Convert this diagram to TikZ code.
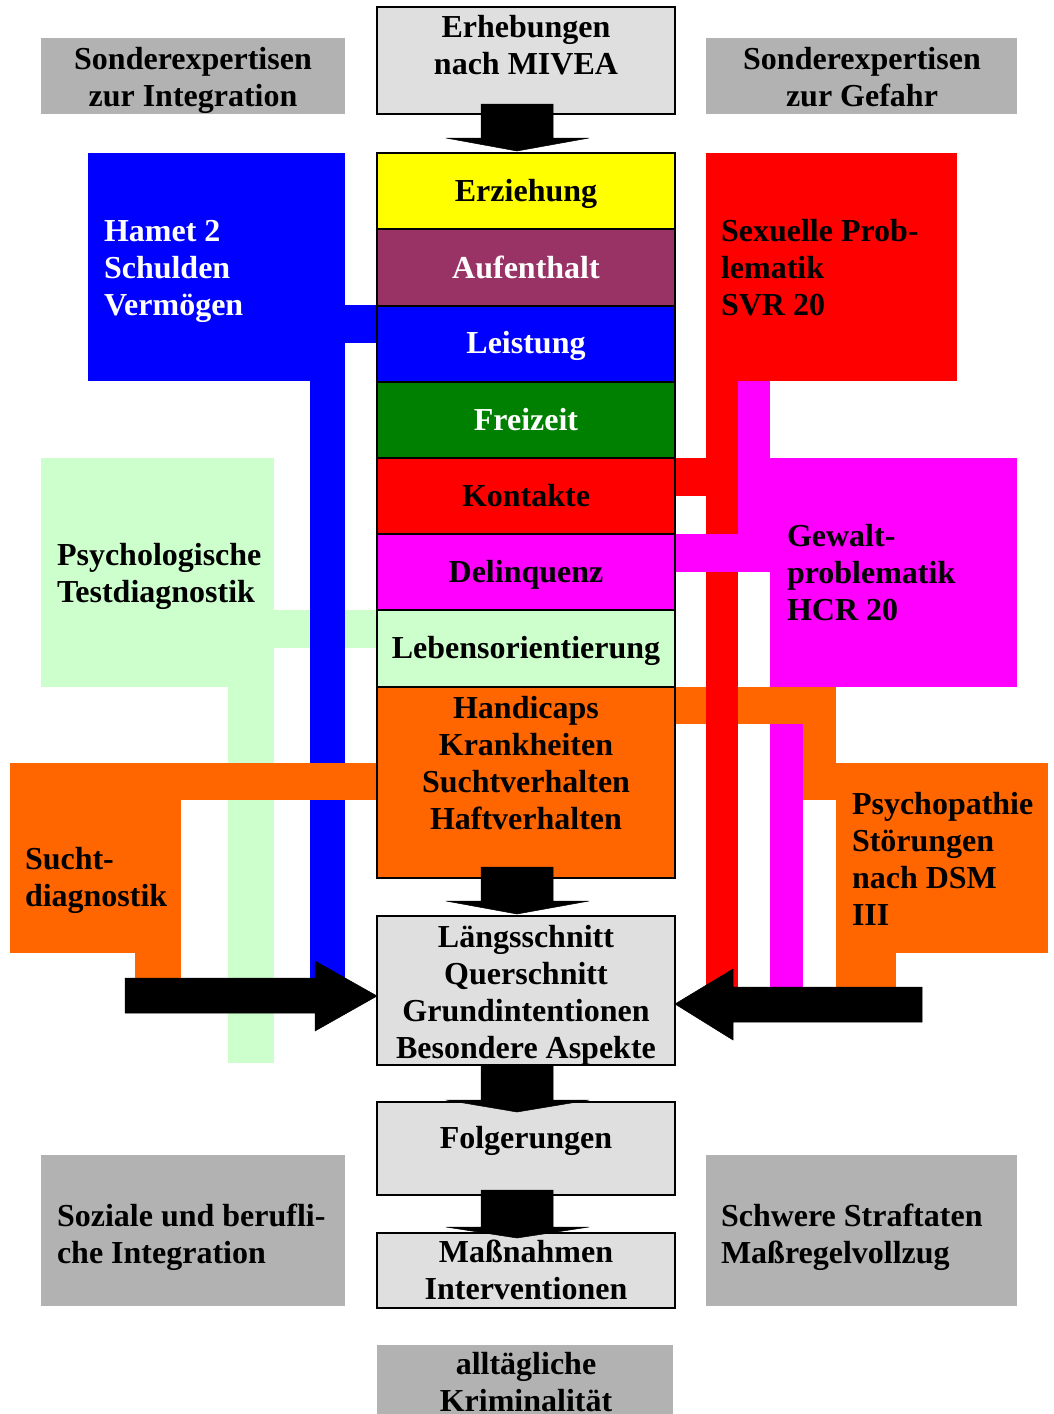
\documentclass[tikz,border=0pt]{standalone}
\usepackage{fontspec}
\setmainfont{Liberation Serif}
\usetikzlibrary{calc}
\definecolor{cgray}{HTML}{DFDFDF}
\definecolor{sgray}{HTML}{B2B2B2}
\definecolor{cyel}{HTML}{FFFF00}
\definecolor{cplum}{HTML}{993366}
\definecolor{cblue}{HTML}{0000FF}
\definecolor{cgreen}{HTML}{008000}
\definecolor{cred}{HTML}{FF0000}
\definecolor{cmag}{HTML}{FF00FF}
\definecolor{clgreen}{HTML}{CCFFCC}
\definecolor{corange}{HTML}{FF6600}
\tikzset{
  boxbase/.style={rectangle, inner sep=0pt, outer sep=0pt, anchor=north west},
  cbox/.style={boxbase, draw=black, line width=1.8pt},
  sbox/.style={boxbase, fill=sgray},
  txt/.style={font=\fontsize{32}{37}\selectfont\bfseries, inner sep=0pt, outer sep=0pt},
  ltxt/.style={txt, anchor=north west, align=left},
  mtxt/.style={txt, anchor=north, align=center},
  band/.style={draw=none},
  bigarrow/.style={fill=black, draw=black, line width=0.5pt, line join=miter}
}
\newcommand\bx[6]{\node[#6, minimum width=#4pt, minimum height=#5pt] (#1) at (#2,#3) {};}
\begin{document}
\begin{tikzpicture}[x=1pt,y=-1pt]
\useasboundingbox[fill=white] (0,0) rectangle (1053,1414);

% side boxes
\bx{sint}{41}{38}{304}{76}{sbox}
\bx{sgef}{706}{38}{311}{76}{sbox}
\bx{soz}{41}{1155}{304}{151}{sbox}
\bx{schw}{706}{1155}{311}{151}{sbox}
\bx{allt}{377}{1345}{296}{69}{sbox}

\bx{hamet}{88}{153}{257}{228}{boxbase, fill=cblue}
\bx{sex}{706}{153}{251}{228}{boxbase, fill=cred}
\bx{psy}{41}{458}{233}{229}{boxbase, fill=clgreen}
\bx{gew}{770}{458}{247}{229}{boxbase, fill=cmag}
\bx{sucht}{10}{763}{171}{190}{boxbase, fill=corange}
\bx{pp}{836}{763}{212}{190}{boxbase, fill=corange}

% left bands
\fill[clgreen] (274,610) rectangle (377,648);
\fill[clgreen] (228,687) rectangle (274,1063);
\fill[cblue] (310,381) rectangle (345,985);
\fill[cblue] (345,305) rectangle (377,343);
\fill[corange] (181,763) rectangle (377,800);
\fill[corange] (135,953) rectangle (181,980);

% right bands
\fill[cmag] (770,687) rectangle (803,987);
\fill[corange] (675,687) rectangle (836,724);
\fill[corange] (803,687) rectangle (836,800);
\fill[corange] (836,953) rectangle (896,987);
\fill[cred] (706,381) rectangle (738,987);
\fill[cred] (675,458) rectangle (706,496);
\fill[cmag] (738,381) rectangle (770,572);
\fill[cmag] (675,534) rectangle (770,572);

% center column
\bx{erh}{377}{7}{298}{107}{cbox, fill=cgray}
\bx{erz}{377}{153}{298}{76}{cbox, fill=cyel}
\bx{auf}{377}{229}{298}{77}{cbox, fill=cplum}
\bx{lei}{377}{306}{298}{76}{cbox, fill=cblue}
\bx{fre}{377}{382}{298}{76}{cbox, fill=cgreen}
\bx{kon}{377}{458}{298}{76}{cbox, fill=cred}
\bx{del}{377}{534}{298}{76}{cbox, fill=cmag}
\bx{leb}{377}{610}{298}{77}{cbox, fill=clgreen}
\bx{han}{377}{687}{298}{191}{cbox, fill=corange}
\bx{lae}{377}{916}{298}{149}{cbox, fill=cgray}
\bx{fol}{377}{1102}{298}{93}{cbox, fill=cgray}
\bx{mas}{377}{1233}{298}{75}{cbox, fill=cgray}

% texts
\node[mtxt] (t-sint) at (193,44) {\strut Sonderexpertisen\\zur Integration};
\node[mtxt] (t-sgef) at (862,44) {\strut Sonderexpertisen\\zur Gefahr};
\node[mtxt] (t-erh) at (526,12) {\strut Erhebungen\\nach MIVEA};
\node[ltxt, text=white] (t-hamet) at (104,216) {\strut Hamet 2\\Schulden\\Vermögen};
\node[ltxt] (t-sex) at (721,216) {\strut Sexuelle Prob-\\lematik\\SVR 20};
\node[mtxt] (t-erz) at (526,176) {\strut Erziehung};
\node[mtxt, text=white] (t-auf) at (526,253) {\strut Aufenthalt};
\node[mtxt, text=white] (t-lei) at (526,328) {\strut Leistung};
\node[mtxt, text=white] (t-fre) at (526,405) {\strut Freizeit};
\node[mtxt] (t-kon) at (526,481) {\strut Kontakte};
\node[mtxt] (t-del) at (526,557) {\strut Delinquenz};
\node[mtxt] (t-leb) at (526,633) {\strut Lebensorientierung};
\node[ltxt] (t-psy) at (57,540) {\strut Psychologische\\Testdiagnostik};
\node[ltxt] (t-gew) at (787,521) {\strut Gewalt-\\problematik\\HCR 20};
\node[mtxt] (t-han) at (526,693) {\strut Handicaps\\Krankheiten\\Suchtverhalten\\Haftverhalten};
\node[ltxt] (t-sucht) at (25,844) {\strut Sucht-\\diagnostik};
\node[ltxt] (t-pp) at (852,789) {\strut Psychopathie\\Störungen\\nach DSM\\III};
\node[mtxt] (t-lae) at (526,922) {\strut Längsschnitt\\Querschnitt\\Grundintentionen\\Besondere Aspekte};
\node[mtxt] (t-fol) at (526,1123) {\strut Folgerungen};
\node[ltxt] (t-soz) at (57,1201) {\strut Soziale und berufli-\\che Integration};
\node[ltxt] (t-schw) at (721,1201) {\strut Schwere Straftaten\\Maßregelvollzug};
\node[mtxt] (t-mas) at (526,1237) {\strut Maßnahmen\\Interventionen};
\node[mtxt] (t-allt) at (526,1349) {\strut alltägliche\\Kriminalität};

% big black arrows
\fill[bigarrow] ($(erh.south)+(-45,-10)$) -- ++(72,0) -- ++(0,34) -- ++(36,0) -- ($(erz.north)+(-9,-2)$) -- ($(erh.south)+(-80,24)$) -- ($(erh.south)+(-45,24)$) -- cycle;
\fill[bigarrow] ($(han.south)+(-45,-11)$) -- ++(72,0) -- ++(0,34) -- ++(36,0) -- ($(lae.north)+(-9,-2)$) -- ($(han.south)+(-80,23)$) -- ($(han.south)+(-45,23)$) -- cycle;
\fill[bigarrow] ($(lae.south)+(-45,0)$) -- ++(72,0) -- ++(0,35) -- ++(36,0) -- ($(fol.north)+(-9,10)$) -- ($(lae.south)+(-80,35)$) -- ($(lae.south)+(-45,35)$) -- cycle;
\fill[bigarrow] ($(fol.south)+(-45,-5)$) -- ++(72,0) -- ++(0,37) -- ++(36,0) -- ($(mas.north)+(-9,5)$) -- ($(fol.south)+(-80,32)$) -- ($(fol.south)+(-45,32)$) -- cycle;
\coordinate (la) at (125,978);
\fill[bigarrow] (la) -- (315,978) -- (315,961) -- (lae.west |- 0,996) -- (315,1031) -- (315,1013) -- (125,1013) -- cycle;
\coordinate (ra) at (922,987);
\fill[bigarrow] (ra) -- (733,987) -- (733,969) -- (lae.east |- 0,1004) -- (733,1040) -- (733,1022) -- (922,1022) -- cycle;
\end{tikzpicture}
\end{document}
